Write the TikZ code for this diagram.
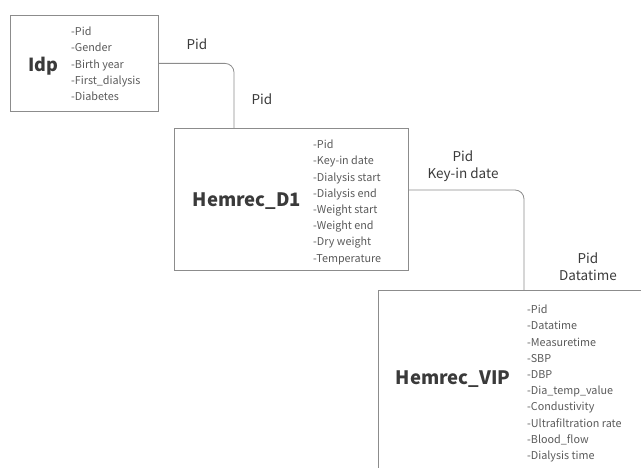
\documentclass[tikz,border=0pt]{standalone}
\usepackage{fontspec}
\setmainfont{Noto Sans CJK SC}
\definecolor{linegray}{HTML}{8C8C8C}
\definecolor{listgray}{HTML}{5A5A5A}
\definecolor{titlegray}{HTML}{3A3A3A}
\begin{document}
\begin{tikzpicture}[x=1pt,y=-1pt,
  tbox/.style={draw=linegray,line width=0.8pt,rectangle,anchor=north west,inner sep=0pt},
  ttitle/.style={font=\fontsize{18.5}{22}\selectfont\bfseries,text=titlegray,anchor=center},
  tlist/.style={font=\fontsize{10.8}{16.2}\selectfont,text=listgray,align=left,anchor=north west,inner sep=0pt},
  lbl/.style={font=\fontsize{13.5}{17}\selectfont,text=titlegray,align=center},
  conn/.style={draw=linegray,line width=0.8pt,rounded corners=9pt}]
\useasboundingbox (0,0) rectangle (641,468);
\clip (0,0) rectangle (641,468);
% boxes
\node[tbox,minimum width=148pt,minimum height=96pt] (idp) at (10,15) {};
\node[tbox,minimum width=234pt,minimum height=142pt] (d1) at (174,128) {};
\node[tbox,minimum width=300pt,minimum height=200pt] (vip) at (378,290) {};
% titles
\node[ttitle,font=\fontsize{18}{22}\selectfont\bfseries] (idpt) at (43,66) {Idp};
\node[ttitle] (d1t) at (247,201) {Hemrec\_D1};
\node[ttitle] (vipt) at (453,379) {Hemrec\_VIP};
% lists
\node[tlist] (idpl) at (71,27) {-Pid\\-Gender\\-Birth year\\-First\_dialysis\\-Diabetes};
\node[tlist] (d1l) at (313,140) {-Pid\\-Key-in date\\-Dialysis start\\-Dialysis end\\-Weight start\\-Weight end\\-Dry weight\\-Temperature};
\node[tlist] (vipl) at (527,305) {-Pid\\-Datatime\\-Measuretime\\-SBP\\-DBP\\-Dia\_temp\_value\\-Condustivity\\-Ultrafiltration rate\\-Blood\_flow\\-Dialysis time};
% connector anchors
\coordinate (d1top) at (234,128);
\coordinate (d1out) at (408,190);
\coordinate (viptop) at (524,290);
\draw[conn] (idp.east) -| (d1top);
\draw[conn] (d1out) -| (viptop);
% labels
\node[lbl] (l1) at (197,44) {Pid};
\node[lbl] (l2) at (262,99) {Pid};
\node[lbl] (l3) at (463,166.5) {Pid\\Key-in date};
\node[lbl] (l4) at (588,266.5) {Pid\\Datatime};
\end{tikzpicture}
\end{document}
